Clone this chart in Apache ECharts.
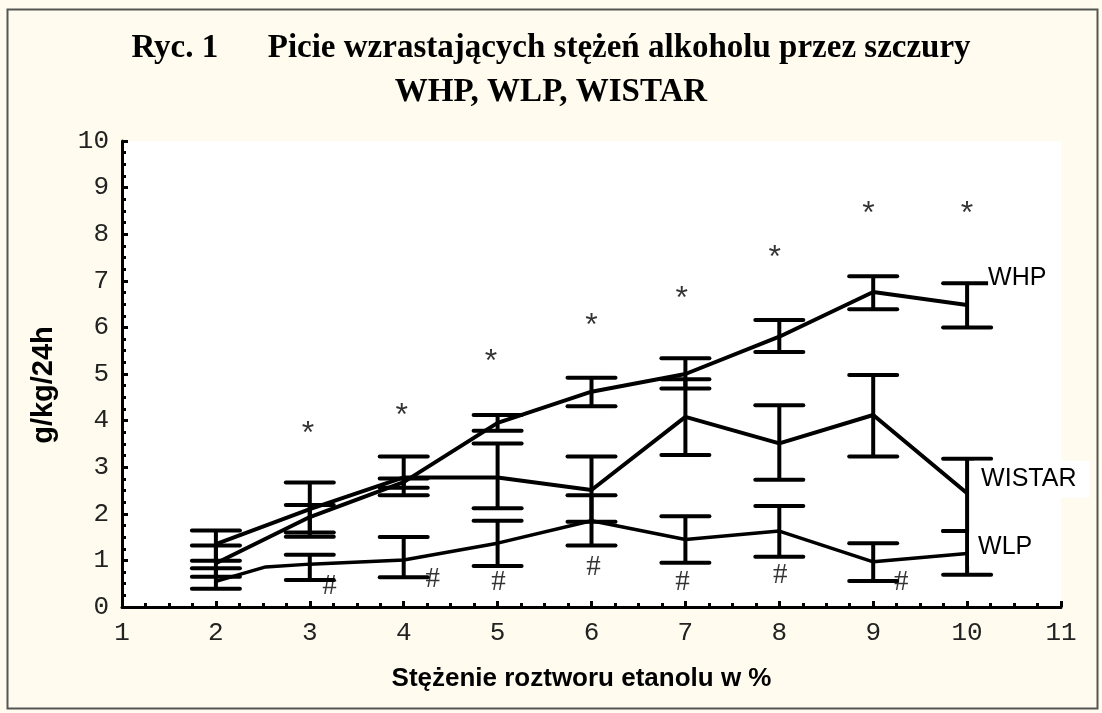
<!DOCTYPE html>
<html>
<head>
<meta charset="utf-8">
<script src="https://cdn.jsdelivr.net/npm/echarts@6/dist/echarts.min.js"></script>
<style>
html,body{margin:0;padding:0;background:#fffcef;}
#chart{width:1102px;height:713px;}
</style>
</head>
<body>
<div id="chart"></div>
<script>
// ---- data ----
const titleLine1 = 'Ryc. 1      Picie wzrastających stężeń alkoholu przez szczury';
const titleLine2 = 'WHP, WLP, WISTAR';
const xAxisName = 'Stężenie roztworu etanolu w %';
const yAxisName = 'g/kg/24h';

const conc = [2, 3, 4, 5, 6, 7, 8, 9, 10];

const whpMean  = [0.94, 1.93, 2.68, 3.95, 4.62, 5.00, 5.80, 6.76, 6.48];
const whpLow   = [0.65, 1.60, 2.56, 3.78, 4.31, 4.69, 5.47, 6.39, 6.00];
const whpHigh  = [1.32, 2.19, 2.76, 4.12, 4.92, 5.34, 6.16, 7.10, 6.95];

const wistarMean = [1.35, 2.10, 2.78, 2.78, 2.51, 4.08, 3.51, 4.12, 2.44];
const wistarLow  = [0.99, 1.51, 2.40, 2.12, 1.83, 3.26, 2.73, 3.23, 1.63];
const wistarHigh = [1.64, 2.67, 3.23, 3.51, 3.23, 4.89, 4.33, 4.98, 3.18];

const wlpLineX  = [2, 2.53, 3, 4, 5, 6, 7, 8, 9, 10];
const wlpLineY  = [0.55, 0.86, 0.92, 1.01, 1.37, 1.85, 1.45, 1.63, 0.97, 1.15];
const wlpLow    = [0.39, 0.58, 0.64, 0.88, 1.32, 0.95, 1.08, 0.56, 0.69];
const wlpHigh   = [0.83, 1.12, 1.50, 1.85, 2.40, 1.95, 2.17, 1.37, 1.63];

const starX = [2.98, 3.98, 4.93, 6.00, 6.96, 7.95, 8.95, 10.00];
const starY = [3.87, 4.27, 5.43, 6.19, 6.77, 7.66, 8.60, 8.60];
const hashX = [3.21, 4.31, 5.01, 6.02, 6.97, 8.01, 9.30];
const hashY = [0.47, 0.62, 0.54, 0.88, 0.54, 0.69, 0.54];

// ---- build ----
const zip = (a, b) => a.map((v, i) => [v, b[i]]);
const errData = (lo, hi) => conc.map((x, i) => [x, lo[i], hi[i]]);

function errorBar(params, api) {
  const x = api.value(0);
  const lo = api.coord([x, api.value(1)]);
  const hi = api.coord([x, api.value(2)]);
  const hw = 24;
  const st = { stroke: '#000', lineWidth: 4, lineCap: 'round' };
  return {
    type: 'group',
    children: [
      { type: 'line', shape: { x1: lo[0], y1: lo[1], x2: hi[0], y2: hi[1] }, style: { stroke: '#000', lineWidth: 4 } },
      { type: 'line', shape: { x1: hi[0] - hw, y1: hi[1], x2: hi[0] + hw, y2: hi[1] }, style: st },
      { type: 'line', shape: { x1: lo[0] - hw, y1: lo[1], x2: lo[0] + hw, y2: lo[1] }, style: st }
    ]
  };
}

const lineStyle = { color: '#000', width: 4 };
const endLab = (name, off, pad) => ({
  show: true, formatter: name, distance: 0, offset: off,
  fontFamily: 'Liberation Sans', fontSize: 25, color: '#000',
  backgroundColor: '#fff', padding: pad
});
const titleStyle = { fontFamily: 'Liberation Serif', fontWeight: 'bold', fontSize: 33, color: '#000' };

const chart = echarts.init(document.getElementById('chart'));
chart.setOption({
  backgroundColor: '#fffcef',
  animation: false,
  title: [
    { text: titleLine1, left: 'center', top: 32, padding: 0, textStyle: titleStyle },
    { text: titleLine2, left: 'center', top: 76, padding: 0, textStyle: titleStyle }
  ],
  graphic: [{
    type: 'rect', left: 5, top: 7, silent: true,
    shape: { width: 1090, height: 699 },
    style: { fill: 'none', stroke: '#555', lineWidth: 2 }, z: -1
  }],
  grid: { left: 122, right: 41, top: 141, bottom: 106, show: true, backgroundColor: '#fff', borderWidth: 0 },
  xAxis: {
    type: 'value', min: 1, max: 11, interval: 1,
    name: xAxisName, nameLocation: 'middle', nameGap: 59,
    nameTextStyle: { fontFamily: 'Liberation Sans', fontWeight: 'bold', fontSize: 26, color: '#000', padding: [0, 20, 0, 0] },
    axisLine: { lineStyle: { color: '#000', width: 3 } },
    axisTick: { inside: true, length: 6, lineStyle: { color: '#000', width: 3 } },
    minorTick: { show: true, splitNumber: 4, length: 4, lineStyle: { color: '#000', width: 3 } },
    splitLine: { show: false },
    axisLabel: { fontFamily: 'Liberation Mono', fontSize: 26, color: '#222', margin: 13 }
  },
  yAxis: {
    type: 'value', min: 0, max: 10, interval: 1,
    name: yAxisName, nameLocation: 'middle', nameGap: 64, nameRotate: 90,
    nameTextStyle: { fontFamily: 'Liberation Sans', fontWeight: 'bold', fontSize: 29, color: '#000', padding: [0, 22, 0, 0] },
    axisLine: { show: true, lineStyle: { color: '#000', width: 3 } },
    axisTick: { show: true, inside: true, length: 6, lineStyle: { color: '#000', width: 3 } },
    minorTick: { show: true, splitNumber: 4, length: 4, lineStyle: { color: '#000', width: 3 } },
    splitLine: { show: false },
    axisLabel: { fontFamily: 'Liberation Mono', fontSize: 26, color: '#222', margin: 13 }
  },
  series: [
    { type: 'custom', name: 'WHP err', renderItem: errorBar, data: errData(whpLow, whpHigh), z: 3 },
    { type: 'custom', name: 'WISTAR err', renderItem: errorBar, data: errData(wistarLow, wistarHigh), z: 3 },
    { type: 'custom', name: 'WLP err', renderItem: errorBar, data: errData(wlpLow, wlpHigh), z: 3 },
    { type: 'line', name: 'WHP', data: zip(conc, whpMean), symbol: 'none', lineStyle, z: 4,
      endLabel: endLab('WHP', [21, -27], [0, 0, 0, 0]) },
    { type: 'line', name: 'WISTAR', data: zip(conc, wistarMean), symbol: 'none', lineStyle, z: 4,
      endLabel: endLab('WISTAR', [7, -14], [6, 13, 6, 7]) },
    { type: 'line', name: 'WLP', data: zip(wlpLineX, wlpLineY), symbol: 'none', lineStyle: { color: '#000', width: 3.5 }, z: 4,
      endLabel: endLab('WLP', [2, -6], [6, 20, 6, 9]) },
    { type: 'scatter', name: 'stars', data: zip(starX, starY), symbolSize: 0, z: 5,
      label: { show: true, position: 'inside', formatter: '*', fontFamily: 'Liberation Sans', fontSize: 32, color: '#000', offset: [0, 8] } },
    { type: 'scatter', name: 'hashes', data: zip(hashX, hashY), symbolSize: 0, z: 5,
      label: { show: true, position: 'inside', formatter: '#', fontFamily: 'Liberation Serif', fontSize: 29, color: '#000', offset: [0, 1] } }
  ]
});
</script>
</body>
</html>
